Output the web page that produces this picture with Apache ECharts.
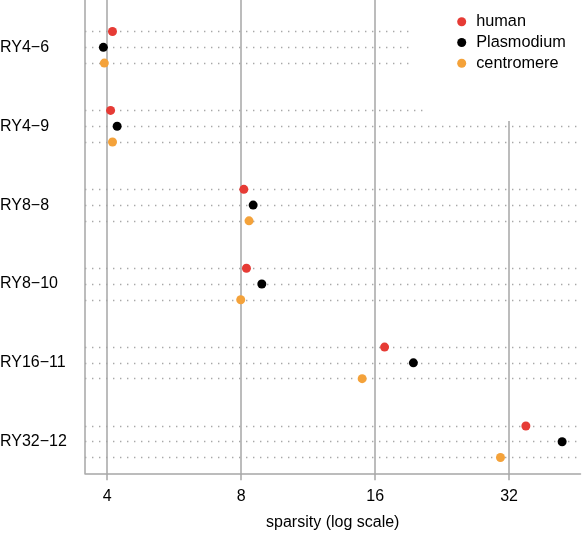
<!DOCTYPE html>
<html>
<head>
<meta charset="utf-8">
<script src="https://cdn.jsdelivr.net/npm/echarts@6/dist/echarts.min.js"></script>
<style>html,body{margin:0;padding:0;background:#fff}#c{width:582px;height:535px}</style>
</head>
<body>
<div id="c"></div>
<script>
// Categories, top to bottom
const categories = ['RY4\u22126', 'RY4\u22129', 'RY8\u22128', 'RY8\u221210', 'RY16\u221211', 'RY32\u221212'];
const seriesNames = ['human', 'Plasmodium', 'centromere'];
const human      = [4.11, 4.07, 8.11, 8.22, 16.8, 34.9];
const plasmodium = [3.92, 4.21, 8.51, 8.90, 19.5, 42.1];
const centromere = [3.94, 4.11, 8.33, 7.98, 14.96, 30.6];
const xTicks = [4, 8, 16, 32];

const colors = ['#E63B35', '#000000', '#F4A23A'];
const GRID = '#a6a6a6';
const FONT = '"Liberation Sans", Arial, Helvetica, sans-serif';

// rows: 0..30 (bottom to top); group g (bottom=0): centromere 1+5g, Plasmodium 2+5g, human 3+5g
const nG = categories.length;
const rowLabels = [];
for (let i = 0; i <= 5 * nG; i++) rowLabels.push('');
const rowOf = (catIdx, s) => { const g = nG - 1 - catIdx; return 5 * g + (3 - s); };
categories.forEach((c, i) => { rowLabels[rowOf(i, 1)] = c; });
const isDataRow = idx => { const m = idx % 5; return idx > 0 && idx <= 5 * nG - 2 && (m === 1 || m === 2 || m === 3); };

const allVals = [human, plasmodium, centromere];
const series = allVals.map((vals, s) => ({
  name: seriesNames[s],
  type: 'scatter',
  symbol: 'circle',
  symbolSize: 9,
  itemStyle: { color: colors[s], opacity: 1 },
  z: 5,
  data: vals.map((v, i) => [v, rowOf(i, s)]),
  silent: true
}));
series[0].markLine = {
  silent: true,
  symbol: 'none',
  label: { show: false },
  lineStyle: { color: GRID, width: 1.5, type: 'solid' },
  emphasis: { disabled: true },
  z: 1,
  data: xTicks.map(v => ({ xAxis: v }))
};

const chart = echarts.init(document.getElementById('c'), null, { renderer: 'canvas' });
chart.setOption({
  animation: false,
  textStyle: { fontFamily: FONT },
  grid: { left: 85, right: 1.5, top: 0, bottom: 61.7, containLabel: false, outerBoundsMode: 'none' },
  xAxis: {
    type: 'log',
    logBase: 2,
    min: 3.565,
    max: 46.3,
    axisLine: { show: true, lineStyle: { color: GRID, width: 1.5 } },
    axisTick: { show: true, customValues: xTicks, length: 7, lineStyle: { color: GRID, width: 1.5 } },
    axisLabel: { customValues: xTicks, fontSize: 16, color: '#000', margin: 15, fontFamily: FONT, formatter: v => String(Math.round(v)) },
    splitLine: { show: false },
    minorSplitLine: { show: false },
    name: 'sparsity (log scale)',
    nameLocation: 'middle',
    nameGap: 41,
    nameTextStyle: { fontSize: 16, color: '#000', fontFamily: FONT }
  },
  yAxis: {
    type: 'category',
    data: rowLabels,
    boundaryGap: false,
    axisLine: { show: true, lineStyle: { color: GRID, width: 1.5 } },
    axisTick: { show: false },
    axisLabel: { interval: 0, align: 'left', margin: 85, fontSize: 16, color: '#000', fontFamily: FONT },
    splitLine: { show: true, interval: (idx) => isDataRow(idx), lineStyle: { color: '#a8a8a8', width: 1.4, type: [1.4, 5.6] } }
  },
  legend: {
    orient: 'vertical',
    left: 457.2,
    top: 12.7,
    padding: 0,
    itemWidth: 19,
    itemHeight: 9,
    itemGap: 2.8,
    icon: 'circle',
    z: 20,
    data: seriesNames,
    textStyle: { fontSize: 16.3, color: '#000', lineHeight: 18, fontFamily: FONT }
  },
  graphic: [
    { type: 'rect', z: 10, silent: true, shape: { x: 413, y: 0, width: 170, height: 78 }, style: { fill: '#fff' } },
    { type: 'rect', z: 10, silent: true, shape: { x: 427, y: 0, width: 156, height: 121 }, style: { fill: '#fff' } }
  ],
  series: series
});
</script>
</body>
</html>
